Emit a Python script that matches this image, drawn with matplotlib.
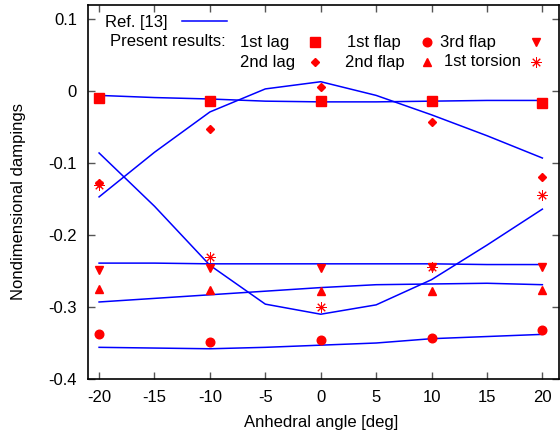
import numpy as np
import matplotlib
matplotlib.use('Agg')
import matplotlib.pylab as plt

plt.rcParams['font.family'] = ['Liberation Sans', 'DejaVu Sans']
plt.rcParams['font.size'] = 12

# Ref. [13] curves
angle_ref = [-20, -15, -10, -5, 0, 5, 10, 15, 20]
ref_1st_lag = [-0.006, -0.009, -0.011, -0.014, -0.015, -0.015, -0.014, -0.013, -0.013]
ref_2nd_lag = [-0.147, -0.085, -0.029, 0.003, 0.013, -0.006, -0.033, -0.062, -0.093]
ref_torsion = [-0.086, -0.160, -0.242, -0.296, -0.310, -0.297, -0.262, -0.214, -0.164]
ref_3rd_flap = [-0.239, -0.239, -0.240, -0.240, -0.240, -0.240, -0.240, -0.241, -0.241]
ref_2nd_flap = [-0.293, -0.288, -0.283, -0.278, -0.273, -0.269, -0.268, -0.267, -0.269]
ref_1st_flap = [-0.356, -0.357, -0.358, -0.356, -0.353, -0.350, -0.344, -0.341, -0.338]

# present results
angle = [-20, -10, 0, 10, 20]
first_lag = [-0.010, -0.014, -0.014, -0.014, -0.017]
second_lag = [-0.128, -0.052, 0.006, -0.043, -0.120]
first_flap = [-0.338, -0.348, -0.346, -0.343, -0.332]
second_flap = [-0.275, -0.277, -0.278, -0.278, -0.277]
third_flap = [-0.248, -0.246, -0.246, -0.245, -0.244]
first_torsion = [-0.130, -0.231, -0.300, -0.245, -0.144]

W, H = 560, 436
fig = plt.figure(figsize=(W/100, H/100), dpi=100)
ax = fig.add_axes([88/W, 1-379/H, 471/W, 374.3/H])

blue = '#0000ff'
red = '#ff0000'
for y in [ref_1st_lag, ref_2nd_lag, ref_torsion, ref_3rd_flap, ref_2nd_flap, ref_1st_flap]:
    ax.plot(angle_ref, y, color=blue, lw=1.1)

styles = [('1st lag', first_lag, dict(marker='s', ms=6.5)),
          ('2nd lag', second_lag, dict(marker='D', ms=4.2)),
          ('1st flap', first_flap, dict(marker='o', ms=6.2)),
          ('2nd flap', second_flap, dict(marker='^', ms=5.5)),
          ('3rd flap', third_flap, dict(marker='v', ms=5.5)),
          ('1st torsion', first_torsion, dict(marker=(8, 2, 0), ms=7.5, mew=0.7))]
for label, y, kw in styles:
    ax.plot(angle, y, ls='none', color=red, mec=red, label=label, **kw)

ax.set_xlim(-21, 21.5)
ax.set_ylim(-0.4, 0.12)
ax.set_xticks([-20, -15, -10, -5, 0, 5, 10, 15, 20])
ax.set_yticks([-0.4, -0.3, -0.2, -0.1, 0, 0.1])
ax.set_yticklabels(['-0.4', '-0.3', '-0.2', '-0.1', '0', '0.1'])
ax.set_xticklabels(['-20', '-15', '-10', '-5', '0', '5', '10', '15', '20'])
ax.tick_params(direction='in', top=True, right=True, length=5, width=1, color='#555555')
ax.tick_params(axis='x', pad=8)
ax.tick_params(axis='y', pad=8)
for s in ax.spines.values():
    s.set_linewidth(1.2)

ax.set_xlabel('Anhedral angle [deg]')
ax.set_ylabel('Nondimensional dampings')
ax.xaxis.set_label_coords(0.495, -0.096)
ax.yaxis.set_label_coords(-0.132, 0.473)

# key, gnuplot style (figure pixel positions)
def fx(px): return px/W
def fy(py): return 1-py/H

ax.text(fx(105), fy(22), 'Ref. [13]', transform=fig.transFigure, va='center')
ax.plot([fx(182), fx(227)], [fy(21), fy(21)], color=blue, lw=1.1,
        transform=fig.transFigure, clip_on=False)
ax.text(fx(110), fy(42), 'Present results:', transform=fig.transFigure, va='center')

key_text_x = [240, 240, 347, 345, 440, 444]
key_mark_x = [315, 315, 427, 427, 536, 536]
key_y = [42, 62, 42, 62, 42, 62]
for (label, y, kw), tx, mx, ky in zip(styles, key_text_x, key_mark_x, key_y):
    ax.text(fx(tx), fy(ky), label, transform=fig.transFigure, va='center')
    ax.plot([fx(mx)], [fy(ky)], ls='none', color=red, mec=red,
            transform=fig.transFigure, clip_on=False, **kw)

fig.savefig('out.png', dpi=100)
